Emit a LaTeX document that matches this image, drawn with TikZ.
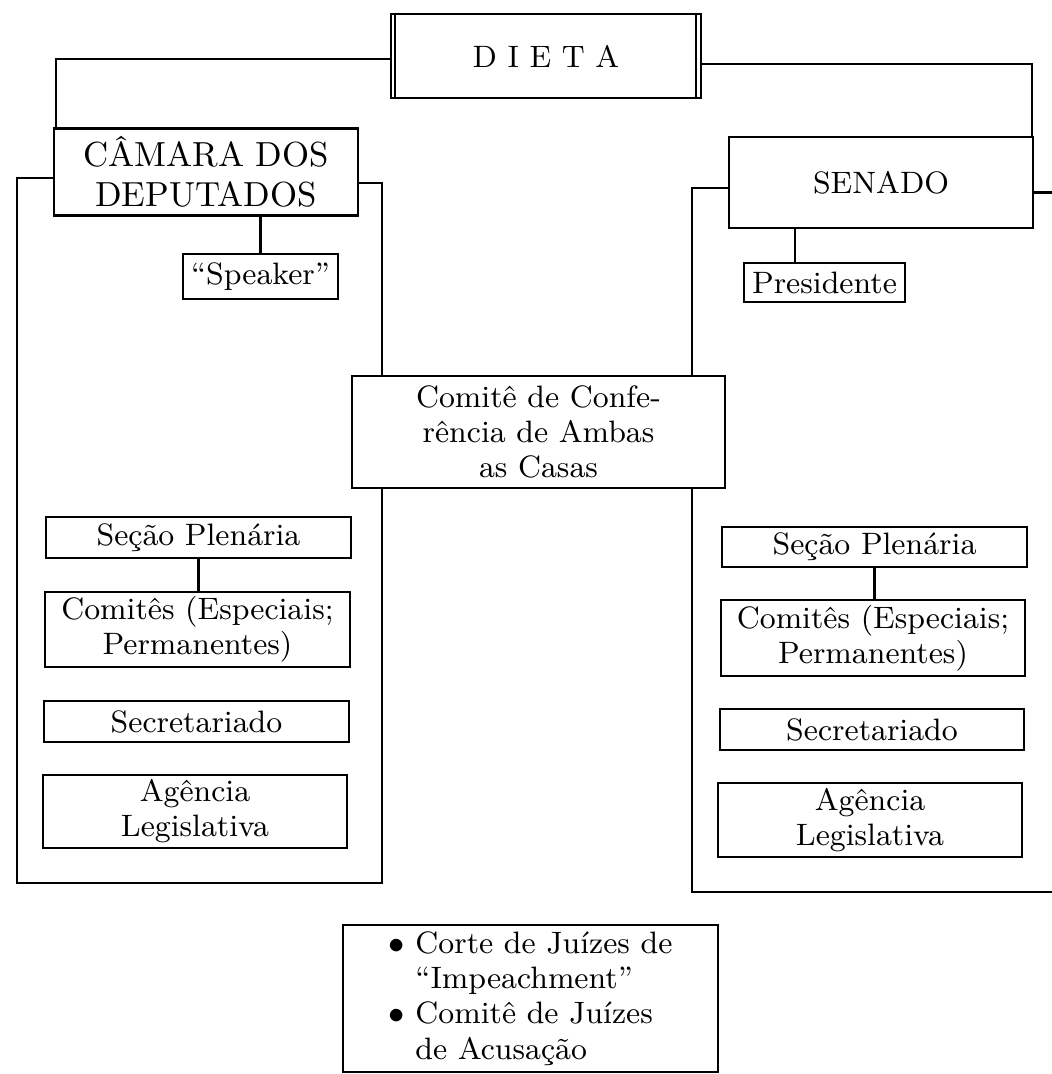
\documentclass[tikz,border=0pt]{standalone}
\usepackage{tikz}
\usetikzlibrary{calc}
\tikzstyle{link} = [line width=0.6pt]

\begin{document}
\begin{tikzpicture}[
				x=0.01cm, y=-0.01cm,
				box/.style= {draw, line width=0.6pt, fill=white, inner sep=0pt, align=center,
					font={\fontsize{8.8}{10}\selectfont}},
				small/.style= {box, minimum width=3.04cm, minimum height=0.41cm},
				tall/.style= {box, minimum width=3.04cm, minimum height=0.75cm}
			]
			\useasboundingbox (0,0) rectangle (1051,1074);

			% top
			\node (dieta) [box, minimum width=3.1cm, minimum height=0.84cm] at (546,56) {D I E T A};
			\node (camara) [box, minimum width=3.04cm, minimum height=0.87cm,
				font={\fontsize{9.9}{11.4}\selectfont}] at (206,172) {CÂMARA DOS\\DEPUTADOS};
			\node (senado) [box, minimum width=3.04cm, minimum height=0.91cm] at (881,182.5) {SENADO};
			\node (speaker) [box, minimum width=1.55cm, minimum height=0.45cm] at (260.5,276.5) {“Speaker”};
			\node (presidente) [box, minimum width=1.61cm, minimum height=0.39cm] at (824.5,282.5) {Presidente};

			% camara
			\node (secL) [small] at (198.5,537.5) {Seção Plenária};
			\node (comL) [tall] at (197.5,629.5) {Comitês (Especiais;\\Permanentes)};
			\node (secrL) [small] at (196.5,721.5) {Secretariado};
			\node (agL) [tall, minimum height=0.73cm] at (195,811.5) {Agência\\Legislativa};

			% senado
			\node (secR) [small, minimum height=0.4cm] at (874.5,547) {Seção Plenária};
			\node (comR) [tall, minimum height=0.76cm] at (873,638) {Comitês (Especiais;\\Permanentes)};
			\node (secrR) [small] at (872,729.5) {Secretariado};
			\node (agR) [tall, minimum height=0.74cm] at (870,820) {Agência\\Legislativa};

			\draw [link] ([xshift=0.05cm]dieta.north west) -- ([xshift=0.05cm]dieta.south west);
			\draw [link] ([xshift=-0.06cm]dieta.north east) -- ([xshift=-0.06cm]dieta.south east);

			\draw [link] ([yshift=-0.03cm]dieta.west) -| ([xshift=0.03cm]camara.north west);
			\draw [link] ([yshift=-0.08cm]dieta.east) -| ([xshift=-0.02cm]senado.north east);
			\draw [link] (speaker.north) -- (speaker.north |- camara.south);
			\coordinate (pr) at ([xshift=0.52cm]presidente.north west);
			\draw [link] (pr) -- (pr |- senado.south);
			\draw [link] (secL.south) -- (secL.south |- comL.north);
			\draw [link] (secR.south) -- (secR.south |- comR.north);

			% enclosures
			\coordinate (cl1) at (17,883);
			\coordinate (cl2) at (382,883);
			\draw [link] ([yshift=-0.06cm]camara.west) -| (cl1) -| (cl2) |- ([yshift=-0.11cm]camara.east);
			\coordinate (cr1) at (692,892);
			\coordinate (cr2) at (1060,892);
			\coordinate (edge) at (1060,0);
			\coordinate (se) at ([yshift=-0.1cm]senado.east);
			\draw [link] ([yshift=-0.055cm]senado.west) -| (cr1) -- (cr2);
			\draw [link] (se) -- (se -| edge);

			\node (comite) [box, minimum width=3.73cm, minimum height=1.12cm] at (538.5,432) {Comitê de Confe-\\rência de Ambas\\as Casas};

			\node (cortes) [box, align=left, minimum width=3.75cm, minimum height=1.47cm] at (530.5,998.5)
				{$\bullet$\ Corte de Juízes de\\\hphantom{$\bullet$\ }“Impeachment”\\$\bullet$\ Comitê de Juízes\\\hphantom{$\bullet$\ }de Acusação};
		\end{tikzpicture}
\end{document}
